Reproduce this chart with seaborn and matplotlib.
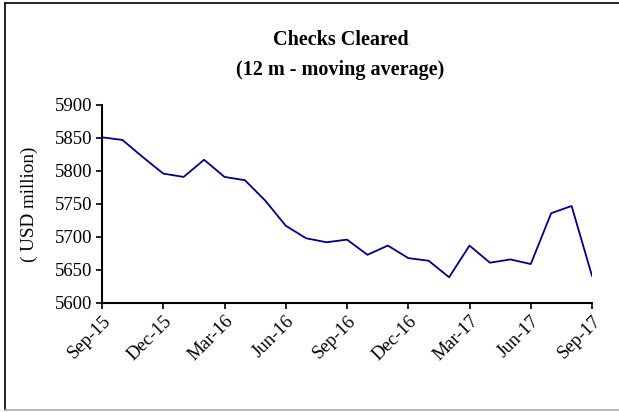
import matplotlib
matplotlib.use("Agg")
import matplotlib.pyplot as plt
import seaborn as sns
import pandas as pd
from matplotlib.lines import Line2D

months = ["Sep-15", "Oct-15", "Nov-15", "Dec-15", "Jan-16", "Feb-16", "Mar-16",
          "Apr-16", "May-16", "Jun-16", "Jul-16", "Aug-16", "Sep-16", "Oct-16",
          "Nov-16", "Dec-16", "Jan-17", "Feb-17", "Mar-17", "Apr-17", "May-17",
          "Jun-17", "Jul-17", "Aug-17", "Sep-17"]
values = [5851, 5847, 5821, 5796, 5791, 5817, 5791, 5786, 5755, 5717, 5698,
          5692, 5696, 5673, 5687, 5668, 5664, 5639, 5687, 5661, 5666, 5659,
          5736, 5747, 5641]
tick_labels = months[::3]
yticks = [5600, 5650, 5700, 5750, 5800, 5850, 5900]

sns.set_theme(style="white")
plt.rcParams['font.family'] = ['Liberation Serif', 'DejaVu Serif']
plt.rcParams['text.color'] = 'black'
plt.rcParams['axes.labelcolor'] = 'black'
plt.rcParams['xtick.color'] = 'black'
plt.rcParams['ytick.color'] = 'black'

df = pd.DataFrame({"idx": range(len(months)), "value": values})

fig = plt.figure(figsize=(6.19, 4.12), dpi=100)
ax = fig.add_axes([0.1648, 0.2646, 0.7916, 0.4806])
sns.lineplot(data=df, x="idx", y="value", ax=ax, color="#000080", linewidth=1.3)

ax.set_xlim(0, len(months) - 1)
ax.set_ylim(5600, 5900)
ax.set_xticks(range(0, len(months), 3))
ax.set_xticklabels(tick_labels, rotation=45, ha="right", rotation_mode="anchor", fontsize=13.5)
ax.set_yticks(yticks)
ax.set_yticklabels([str(v) for v in yticks], fontsize=13.5)
ax.tick_params(axis="both", direction="out", length=4, width=1.2, color="black",
               labelcolor="black", bottom=True, left=True, pad=3)
ax.set_xlabel("")
ax.set_ylabel("( USD million)", fontsize=13.8, color="black")
ax.yaxis.set_label_coords(-0.13, 0.5)
for s in ["top", "right"]:
    ax.spines[s].set_visible(False)
for s in ["left", "bottom"]:
    ax.spines[s].set_color("black")
    ax.spines[s].set_linewidth(1.5)

fig.text(0.55, 0.902, "Checks Cleared", ha="center", va="center",
         fontsize=14.5, fontweight="bold", color="black")
fig.text(0.55, 0.830, "(12 m - moving average)", ha="center", va="center",
         fontsize=14.5, fontweight="bold", color="black")

# outer frame: top and left dark, bottom light gray, no right edge
fig.lines.append(Line2D([5 / 619, 1.0], [1 - 3 / 412, 1 - 3 / 412], transform=fig.transFigure,
                        color="black", linewidth=1.2))
fig.lines.append(Line2D([5 / 619, 5 / 619], [1 - 3 / 412, 1 - 410 / 412], transform=fig.transFigure,
                        color="black", linewidth=1.2))
fig.lines.append(Line2D([5 / 619, 1.0], [1 - 410 / 412, 1 - 410 / 412], transform=fig.transFigure,
                        color="#aaaaaa", linewidth=1.2))

fig.savefig("out.png", dpi=100)
